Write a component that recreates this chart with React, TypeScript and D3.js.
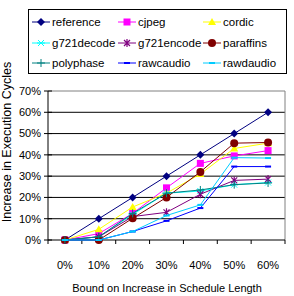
import { Component } from "react";
import * as d3 from "d3";

const categories = ["0%", "10%", "20%", "30%", "40%", "50%", "60%"];
const yTicks = [0, 10, 20, 30, 40, 50, 60, 70];

const reference = [0, 10, 20, 30, 40, 50, 60];
const cjpeg = [0, 3, 12.5, 24.5, 36, 39.5, 42];
const cordic = [0, 5, 15.5, 22, 31, 43, 45.5];
const g721decode = [0, 1.5, 12, 22, 23, 26, 27];
const g721encode = [0, 1.5, 11, 13, 21.5, 28, 28.6];
const paraffins = [0, 0, 10.2, 20, 32, 45.5, 45.8];
const polyphase = [0, 1.5, 12.5, 22, 23.5, 26, 26.8];
const rawcaudio = [0, 0, 4, 9, 15, 34.5, 34.5];
const rawdaudio = [0, 0, 4, 11.5, 16.5, 38.7, 38.5];

const series = [
  { name: "reference", values: reference, color: "#000080", marker: "diamond" },
  { name: "cjpeg", values: cjpeg, color: "#FF00FF", marker: "square" },
  { name: "cordic", values: cordic, color: "#FFFF00", marker: "triangle" },
  { name: "g721decode", values: g721decode, color: "#00FFFF", marker: "asterisk" },
  { name: "g721encode", values: g721encode, color: "#800080", marker: "star" },
  { name: "paraffins", values: paraffins, color: "#800000", marker: "circle" },
  { name: "polyphase", values: polyphase, color: "#008080", marker: "plus" },
  { name: "rawcaudio", values: rawcaudio, color: "#0000FF", marker: "dash" },
  { name: "rawdaudio", values: rawdaudio, color: "#00CCFF", marker: "dash" },
];

const FONT = "'Liberation Sans', Arial, sans-serif";

function drawMarker(g, type, x, y, color) {
  switch (type) {
    case "diamond":
      g.append("path")
        .attr("d", `M${x},${y - 4}L${x + 4},${y}L${x},${y + 4}L${x - 4},${y}Z`)
        .attr("fill", color);
      break;
    case "square":
      g.append("rect")
        .attr("x", x - 3.5).attr("y", y - 3.5)
        .attr("width", 7).attr("height", 7)
        .attr("fill", color);
      break;
    case "triangle":
      g.append("path")
        .attr("d", `M${x},${y - 4}L${x + 4},${y + 3}L${x - 4},${y + 3}Z`)
        .attr("fill", color);
      break;
    case "asterisk":
      g.append("path")
        .attr("d", `M${x - 4},${y}L${x + 4},${y}M${x - 3},${y - 3}L${x + 3},${y + 3}M${x - 3},${y + 3}L${x + 3},${y - 3}`)
        .attr("stroke", color).attr("stroke-width", 1);
      break;
    case "star":
      g.append("path")
        .attr("d", `M${x},${y - 4}L${x},${y + 4}M${x - 3},${y - 3}L${x + 3},${y + 3}M${x - 3},${y + 3}L${x + 3},${y - 3}`)
        .attr("stroke", color).attr("stroke-width", 1.2);
      break;
    case "circle":
      g.append("circle")
        .attr("cx", x).attr("cy", y).attr("r", 4)
        .attr("fill", color);
      break;
    case "plus":
      g.append("path")
        .attr("d", `M${x - 4},${y}L${x + 4},${y}M${x},${y - 4}L${x},${y + 4}`)
        .attr("stroke", color).attr("stroke-width", 1);
      break;
    case "dash":
      g.append("rect")
        .attr("x", x - 3).attr("y", y - 1)
        .attr("width", 6).attr("height", 2)
        .attr("fill", color);
      break;
  }
}

class App extends Component {
  ref = null;

  componentDidMount() {
    this.renderChart();
  }

  renderChart() {
    const left = 48, right = 285, top = 91, bottom = 240;

    const svg = d3.select(this.ref);
    svg.selectAll("*").remove();

    const x = d3.scaleBand().domain(categories).range([left, right]);
    const y = d3.scaleLinear().domain([0, 70]).range([bottom, top]);

    // gridlines
    svg.append("g")
      .selectAll("line")
      .data(yTicks.filter(d => d > 0 && d < 70))
      .enter()
      .append("line")
      .attr("x1", left).attr("x2", right)
      .attr("y1", d => y(d)).attr("y2", d => y(d))
      .attr("stroke", "#000").attr("stroke-width", 1);

    // plot border
    svg.append("path")
      .attr("d", `M${left},${top}H${right}V${bottom}`)
      .attr("fill", "none")
      .attr("stroke", "#808080")
      .attr("stroke-width", 1);

    // y axis
    svg.append("line")
      .attr("x1", left).attr("x2", left)
      .attr("y1", top).attr("y2", bottom)
      .attr("stroke", "#000");
    yTicks.forEach(t => {
      svg.append("line")
        .attr("x1", left - 4).attr("x2", left + 4)
        .attr("y1", y(t)).attr("y2", y(t))
        .attr("stroke", "#000");
      svg.append("text")
        .attr("x", left - 7)
        .attr("y", y(t))
        .attr("dy", "0.35em")
        .attr("text-anchor", "end")
        .attr("font-family", FONT)
        .attr("font-size", 11)
        .text(`${t}%`);
    });

    // x axis
    svg.append("line")
      .attr("x1", left).attr("x2", right)
      .attr("y1", bottom).attr("y2", bottom)
      .attr("stroke", "#000");
    categories.concat(["end"]).forEach((c, i) => {
      const xp = left + i * x.bandwidth();
      svg.append("line")
        .attr("x1", xp).attr("x2", xp)
        .attr("y1", bottom).attr("y2", bottom + 4)
        .attr("stroke", "#000");
    });
    categories.forEach(c => {
      svg.append("text")
        .attr("x", x(c) + x.bandwidth() / 2)
        .attr("y", 269)
        .attr("text-anchor", "middle")
        .attr("font-family", FONT)
        .attr("font-size", 11)
        .text(c);
    });

    // axis titles
    svg.append("text")
      .attr("x", 167)
      .attr("y", 292)
      .attr("text-anchor", "middle")
      .attr("font-family", FONT)
      .attr("font-size", 11)
      .text("Bound on Increase in Schedule Length");

    svg.append("text")
      .attr("transform", "translate(11,142) rotate(-90)")
      .attr("text-anchor", "middle")
      .attr("font-family", FONT)
      .attr("font-size", 12.5)
      .text("Increase in Execution Cycles");

    // lines
    const line = d3.line()
      .x((d, i) => x(categories[i]) + x.bandwidth() / 2)
      .y(d => y(d));

    series.forEach(s => {
      const g = svg.append("g");
      g.append("path")
        .attr("d", line(s.values))
        .attr("fill", "none")
        .attr("stroke", s.color)
        .attr("stroke-width", 1);
      s.values.forEach((v, i) => {
        drawMarker(g, s.marker, x(categories[i]) + x.bandwidth() / 2, y(v), s.color);
      });
    });

    // legend
    svg.append("rect")
      .attr("x", 28.5).attr("y", 9.5)
      .attr("width", 258).attr("height", 64)
      .attr("fill", "#fff")
      .attr("stroke", "#000");
    const colX = [42, 128, 213];
    const rowY = [22, 43, 63];
    series.forEach((s, i) => {
      const cx = colX[i % 3];
      const cy = rowY[Math.floor(i / 3)];
      const g = svg.append("g");
      g.append("line")
        .attr("x1", cx - 10).attr("x2", cx + 8)
        .attr("y1", cy).attr("y2", cy)
        .attr("stroke", s.color);
      drawMarker(g, s.marker, cx - 1, cy, s.color);
      g.append("text")
        .attr("x", cx + 10)
        .attr("y", cy)
        .attr("dy", "0.35em")
        .attr("font-family", FONT)
        .attr("font-size", 11.5)
        .text(s.name);
    });
  }

  render() {
    return (
      <svg
        ref={el => { this.ref = el; }}
        width={294}
        height={296}
        style={{ position: "absolute", left: 0, top: 0, background: "#fff" }}
      />
    );
  }
}

export default App;
